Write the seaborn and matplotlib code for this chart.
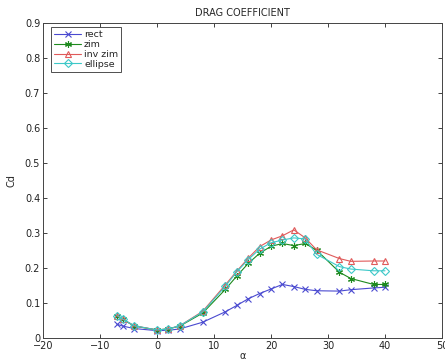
import numpy as np
import pandas as pd
import matplotlib
matplotlib.use("Agg")
import matplotlib.pyplot as plt
import seaborn as sns
from matplotlib.ticker import FuncFormatter, MultipleLocator

alpha = [-7, -6, -4, 0, 2, 4, 8, 12, 14, 16, 18, 20, 22, 24, 26, 28, 32, 34, 38, 40]
rect = [0.039, 0.034, 0.027, 0.021, 0.022, 0.026, 0.045, 0.075, 0.093, 0.112, 0.127, 0.140,
        0.153, 0.147, 0.139, 0.135, 0.134, 0.138, 0.143, 0.145]
zim = [0.063, 0.053, 0.034, 0.023, 0.026, 0.034, 0.071, 0.139, 0.177, 0.213, 0.242, 0.262,
       0.270, 0.264, 0.270, 0.251, 0.188, 0.170, 0.153, 0.153]
inv_zim = [0.064, 0.054, 0.035, 0.023, 0.026, 0.035, 0.076, 0.152, 0.191, 0.228, 0.261, 0.280,
           0.292, 0.309, 0.286, 0.252, 0.227, 0.219, 0.220, 0.220]
ellipse = [0.064, 0.054, 0.035, 0.023, 0.026, 0.035, 0.074, 0.148, 0.189, 0.224, 0.254, 0.272,
           0.280, 0.286, 0.283, 0.239, 0.204, 0.197, 0.192, 0.192]
series_names = ["rect", "zim", "inv zim", "ellipse"]
colors = ["#4a4ad0", "#1e8a1e", "#e05a5a", "#3cc8c8"]
markers = ["x", (6, 2, 0), "^", "D"]

sns.set_style("white")
plt.rcParams["font.family"] = ["DejaVu Sans"]
fig = plt.figure(figsize=(4.45, 3.62), dpi=100)
ax = fig.add_axes([43 / 445, 1 - 338 / 362, (442 - 43) / 445, (338 - 23) / 362])

for name, vals, col, mk in zip(series_names, [rect, zim, inv_zim, ellipse], colors, markers):
    df = pd.DataFrame({"alpha": alpha, "Cd": vals})
    open_mk = name in ("inv zim", "ellipse")
    sns.lineplot(data=df, x="alpha", y="Cd", color=col, marker=mk,
                 markersize=4 if name == "ellipse" else 5,
                 markerfacecolor="none" if open_mk else col,
                 markeredgecolor=col, markeredgewidth=0.8,
                 linewidth=0.8, label=name, ax=ax)

leg = ax.legend(loc="upper left", fontsize=6.8,
                frameon=True, fancybox=False, handlelength=2.9, borderpad=0.3,
                labelspacing=0.1, handletextpad=0.3, borderaxespad=0,
                bbox_to_anchor=(0.02, 0.987))
leg.get_frame().set_edgecolor("#222222")
leg.get_frame().set_linewidth(0.7)

ax.set_xlim(-20, 50)
ax.set_ylim(0, 0.9)
ax.xaxis.set_major_locator(MultipleLocator(10))
ax.yaxis.set_major_locator(MultipleLocator(0.1))
ax.yaxis.set_major_formatter(FuncFormatter(lambda v, p: "0" if abs(v) < 1e-9 else f"{v:.1f}"))
ax.tick_params(direction="in", length=3, width=0.6, labelsize=7, colors="#222222",
               top=True, right=True, bottom=True, left=True, pad=2)
for s in ax.spines.values():
    s.set_color("#444444")
    s.set_linewidth(0.7)
ax.set_xlabel("α", fontsize=7, labelpad=0)
ax.set_ylabel("Cd", fontsize=7, labelpad=6)
ax.set_title("DRAG COEFFICIENT", fontsize=7, pad=5)

fig.savefig("out.png", dpi=100)
